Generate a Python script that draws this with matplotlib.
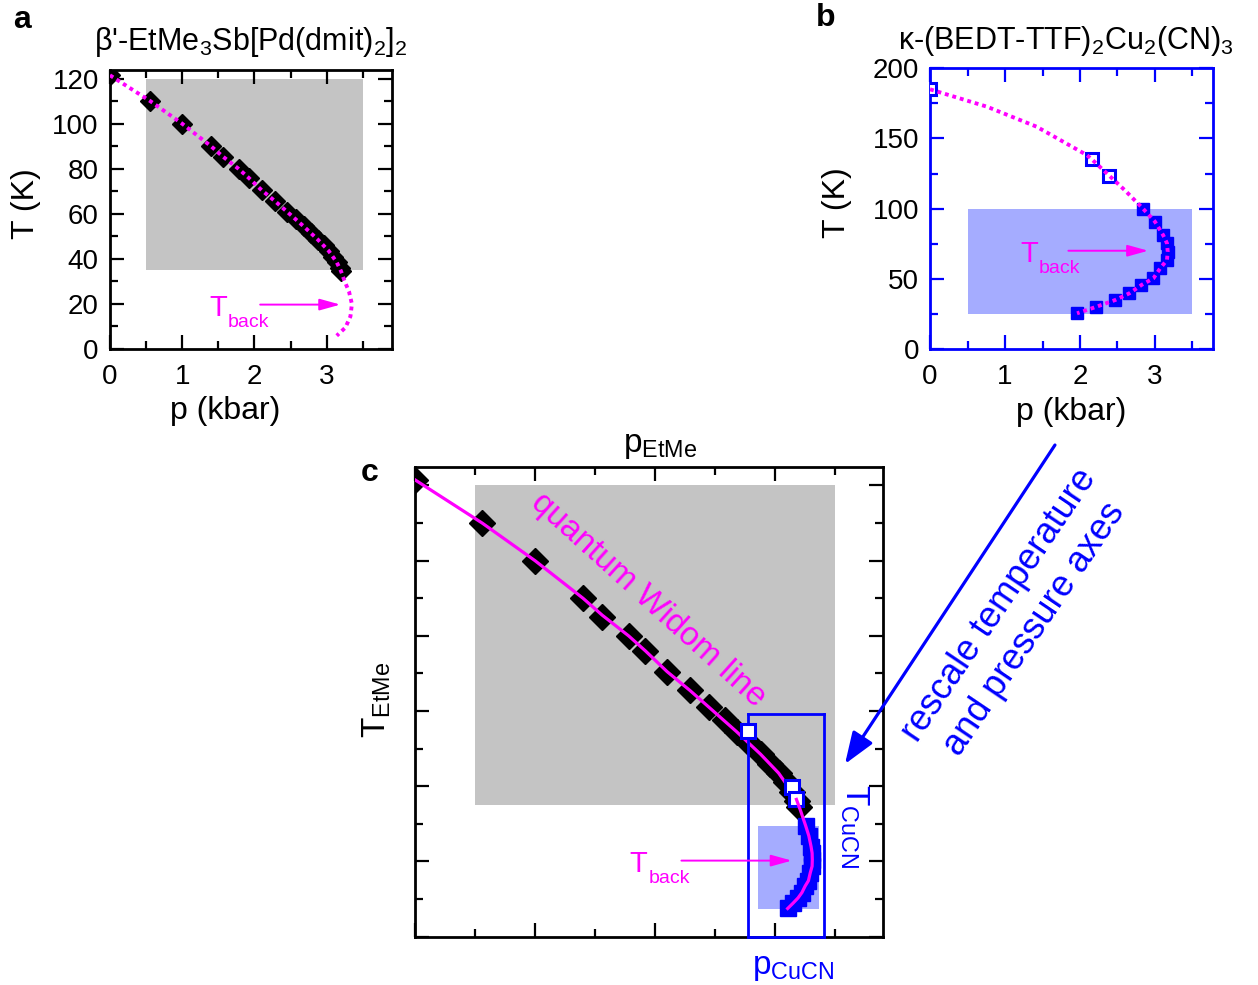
import matplotlib
matplotlib.use('Agg')
import matplotlib.pyplot as plt
from matplotlib.patches import Rectangle
from matplotlib.ticker import MultipleLocator, NullFormatter
import numpy as np

plt.rcParams['font.family'] = ['Liberation Sans', 'DejaVu Sans']
plt.rcParams['mathtext.default'] = 'regular'

MAG = '#ff00ff'
BLUE = '#0000ff'
GRAY = '#c4c4c4'
LBLUE = '#a5acff'

# beta'-EtMe3Sb[Pd(dmit)2]2 : crossover points, p (kbar), T (K)
p_etme = np.array([0.0, 0.56, 1.0, 1.4, 1.56, 1.78, 1.92, 2.1, 2.29, 2.45, 2.58, 2.68,
                   2.78, 2.88, 2.96, 3.03, 3.09, 3.14, 3.18, 3.2])
T_etme = np.array([121.5, 110, 100, 90, 85, 80, 76, 70.5, 65.5, 61, 57.5, 54.5,
                   51.5, 48.5, 46, 43.5, 41, 38.5, 36, 34.5])
# guide line (quantum Widom line) incl. back-bending part
p_etme_line = np.array([0.0, 0.56, 1.0, 1.4, 1.56, 1.78, 1.92, 2.1, 2.29, 2.45, 2.68, 2.88,
                        3.03, 3.14, 3.2, 3.25, 3.31, 3.35, 3.33, 3.26, 3.14])
T_etme_line = np.array([121.5, 110, 100, 90, 85.5, 80, 76, 70.5, 65.5, 61, 54.5, 48.5,
                        43.5, 38.5, 34.5, 30, 25.5, 20, 14.5, 9.5, 5.9])

# kappa-(BEDT-TTF)2Cu2(CN)3
p_cucn_open = np.array([0.0, 2.16, 2.39])
T_cucn_open = np.array([185, 135, 123.5])
p_cucn_full = np.array([2.84, 3.0, 3.11, 3.16, 3.17, 3.16, 3.07, 2.98, 2.82, 2.66, 2.47, 2.22, 1.96])
T_cucn_full = np.array([100, 90.7, 81, 75.3, 69.3, 63.4, 57.5, 50.4, 45.6, 39.7, 34.9, 30.1, 25.4])
p_cucn_line = np.array([0.0, 0.76, 1.42, 2.09, 2.16, 2.39, 2.6, 2.84, 3.0, 3.11, 3.16, 3.17, 3.16,
                        3.07, 2.98, 2.82, 2.66, 2.47, 2.22, 1.96])
T_cucn_line = np.array([185, 172.6, 158.4, 138.2, 135, 123.5, 113, 100, 90.7, 81, 75.3, 69.3, 63.4,
                        57.5, 50.4, 45.6, 39.7, 34.9, 30.1, 25.4])

# shaded regions: (p_min, p_max, T_min, T_max)
box_etme = (0.5, 3.5, 35, 120)
box_cucn = (0.5, 3.5, 25, 100)

# T_back marker: arrow from p0 to p1 at T
tback_etme = (2.08, 3.19, 19.7)
tback_cucn = (1.845, 2.91, 70)

dotted = (0, (1, 1))


def style(ax, col, labels=True):
    for s in ax.spines.values():
        s.set_color(col)
        s.set_linewidth(2)
    ax.tick_params(which='both', direction='in', top=True, right=True, color=col,
                   width=1.6, labelsize=20)
    ax.tick_params(which='major', length=10)
    ax.tick_params(which='minor', length=6)
    ax.tick_params(axis='y', pad=8)
    ax.tick_params(axis='x', pad=11)
    if not labels:
        ax.xaxis.set_major_formatter(NullFormatter())
        ax.yaxis.set_major_formatter(NullFormatter())


def shade(ax, box, col):
    ax.add_patch(Rectangle((box[0], box[2]), box[1] - box[0], box[3] - box[2],
                           fc=col, ec='none', zorder=0))


def tback(ax, arr, coords=None):
    tr = coords if coords is not None else ax.transData
    ax.annotate('', xy=(arr[1], arr[2]), xycoords=tr, xytext=(arr[0], arr[2]), textcoords=tr,
                arrowprops=dict(arrowstyle='-|>,head_length=0.9,head_width=0.25', color=MAG,
                                lw=1.4, shrinkA=0, shrinkB=0, mutation_scale=14),
                annotation_clip=False)


def tback_label(ax, x, y):
    ax.text(x, y, 'T', color=MAG, fontsize=21, ha='left', va='baseline')
    ax.annotate('back', xy=(x, y), xytext=(13.5, -8), textcoords='offset points',
                color=MAG, fontsize=14, ha='left', va='baseline')


fig = plt.figure(figsize=(12.58, 9.85), dpi=100)

# ---------------- a ----------------
ax_a = fig.add_axes([0.0874, 0.6457, 0.2239, 0.2836])
style(ax_a, 'k')
shade(ax_a, box_etme, GRAY)
ax_a.plot(p_etme, T_etme, 'D', ms=10.5, color='k', mew=1, zorder=3)
ax_a.plot(p_etme_line, T_etme_line, color=MAG, lw=2.8, ls=dotted, zorder=4)
ax_a.set_xlim(0, 3.9)
ax_a.set_ylim(0, 124)
ax_a.xaxis.set_major_locator(MultipleLocator(1))
ax_a.xaxis.set_minor_locator(MultipleLocator(0.5))
ax_a.yaxis.set_major_locator(MultipleLocator(20))
ax_a.yaxis.set_minor_locator(MultipleLocator(10))
ax_a.set_xlabel('p (kbar)', fontsize=23)
ax_a.xaxis.set_label_coords(0.41, -0.17)
ax_a.set_ylabel('T (K)', fontsize=23)
ax_a.yaxis.set_label_coords(-0.245, 0.52)
ax_a.set_title("β'-EtMe$_3$Sb[Pd(dmit)$_2$]$_2$", fontsize=22, pad=14)
tback(ax_a, tback_etme)
tback_label(ax_a, 1.37, 14.8)

# ---------------- b ----------------
ax_b = fig.add_axes([0.7393, 0.6457, 0.2247, 0.285])
style(ax_b, BLUE)
shade(ax_b, box_cucn, LBLUE)
ax_b.plot(p_cucn_open, T_cucn_open, 's', ms=8, mfc='white', mec=BLUE, mew=2.2, zorder=3)
ax_b.plot(p_cucn_full, T_cucn_full, 's', ms=8.5, color=BLUE, zorder=3)
ax_b.plot(p_cucn_line, T_cucn_line, color=MAG, lw=2.8, ls=dotted, zorder=4)
ax_b.set_xlim(0, 3.77)
ax_b.set_ylim(0, 200)
ax_b.xaxis.set_major_locator(MultipleLocator(1))
ax_b.xaxis.set_minor_locator(MultipleLocator(0.5))
ax_b.yaxis.set_major_locator(MultipleLocator(50))
ax_b.yaxis.set_minor_locator(MultipleLocator(25))
ax_b.set_xlabel('p (kbar)', fontsize=23)
ax_b.xaxis.set_label_coords(0.5, -0.17)
ax_b.set_ylabel('T (K)', fontsize=23)
ax_b.yaxis.set_label_coords(-0.276, 0.52)
ax_b.set_title('κ-(BEDT-TTF)$_2$Cu$_2$(CN)$_3$', fontsize=22, pad=14, x=0.48)
tback(ax_b, tback_cucn)
tback_label(ax_b, 1.2, 62.2)

# ---------------- c ----------------
ax_c = fig.add_axes([0.3299, 0.0492, 0.372, 0.477])
style(ax_c, 'k', labels=False)
shade(ax_c, box_etme, GRAY)
ax_c.plot(p_etme, T_etme, 'D', ms=13.5, color='k', mew=1, zorder=3)
upper = T_etme_line >= 33
ax_c.plot(p_etme_line[upper], T_etme_line[upper], color=MAG, lw=2.3, zorder=4)
ax_c.set_xlim(0, 3.9)
ax_c.set_ylim(0, 125)
ax_c.xaxis.set_major_locator(MultipleLocator(1))
ax_c.xaxis.set_minor_locator(MultipleLocator(0.5))
ax_c.yaxis.set_major_locator(MultipleLocator(20))
ax_c.yaxis.set_minor_locator(MultipleLocator(10))
ax_c.xaxis.set_label_position('top')
ax_c.set_xlabel('p$_{EtMe}$', fontsize=24)
ax_c.xaxis.set_label_coords(0.523, 1.031)
ax_c.set_ylabel('T$_{EtMe}$', fontsize=24)
ax_c.yaxis.set_label_coords(-0.047, 0.503)
ax_c.text(1.94, 89.5, 'quantum Widom line', color=MAG, fontsize=24, rotation=-42,
          rotation_mode='anchor', ha='center', va='center')

ins = fig.add_axes([0.5944, 0.049, 0.0607, 0.2258])
ins.set_facecolor('none')
for s in ins.spines.values():
    s.set_color(BLUE)
    s.set_linewidth(2)
ins.set_xticks([])
ins.set_yticks([])
ins.set_xlim(0, 3.75)
ins.set_ylim(0, 200)
shade(ins, box_cucn, LBLUE)
ins.plot(p_cucn_open, T_cucn_open, 's', ms=10, mfc='white', mec=BLUE, mew=2.2, zorder=3, clip_on=False)
ins.plot(p_cucn_full, T_cucn_full, 's', ms=11, color=BLUE, zorder=3, clip_on=False)
lower = T_cucn_line <= 124
ins.plot(p_cucn_line[lower], T_cucn_line[lower], color=MAG, lw=2.3, zorder=4)
ins.set_xlabel('p$_{CuCN}$', fontsize=24, color=BLUE)
ins.xaxis.set_label_coords(0.594, -0.069)
ins.yaxis.set_label_position('right')
ins.set_ylabel('T$_{CuCN}$', fontsize=24, color=BLUE, rotation=-90, va='bottom')
ins.yaxis.set_label_coords(1.18, 0.498)
tback(ins, (2.22, 3.14, 20.2), coords=ax_c.transData)
tback_label(ax_c, 1.79, 17.2)

# rescale arrow and note
ax_c.annotate('', xy=(0.6717, 0.2244), xycoords='figure fraction',
              xytext=(0.8386, 0.5482), textcoords='figure fraction',
              arrowprops=dict(arrowstyle='-|>,head_length=0.97,head_width=0.36', color=BLUE,
                              lw=2.3, shrinkA=0, shrinkB=0, mutation_scale=20))
fig.text(0.8084, 0.3736, 'rescale temperature\nand pressure axes', color=BLUE, fontsize=26,
         rotation=56, rotation_mode='anchor', ha='center', va='center', linespacing=1.3)

# panel letters
fig.text(0.0175, 0.98, 'a', fontsize=23, fontweight='bold', ha='center', va='center')
fig.text(0.656, 0.982, 'b', fontsize=23, fontweight='bold', ha='center', va='center')
fig.text(0.294, 0.52, 'c', fontsize=23, fontweight='bold', ha='center', va='center')

fig.savefig('out.png', dpi=100)
